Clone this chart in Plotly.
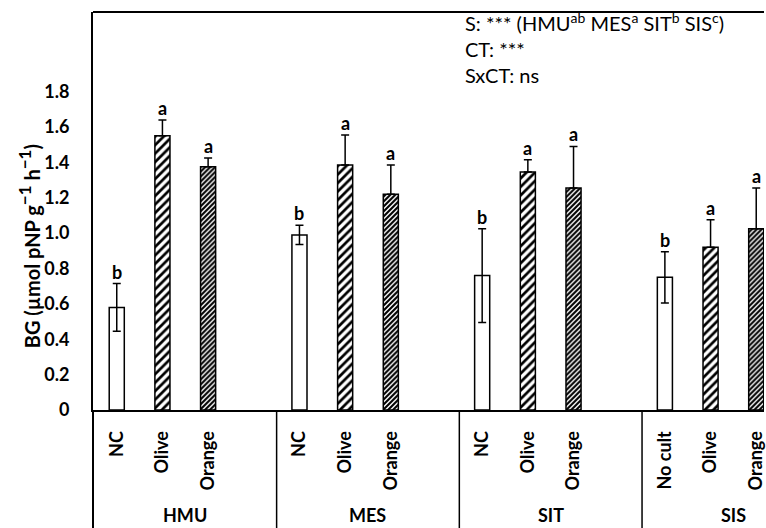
import plotly.graph_objects as go

sites = ["HMU", "MES", "SIT", "SIS"]
treatments = [["NC", "Olive", "Orange"], ["NC", "Olive", "Orange"],
              ["NC", "Olive", "Orange"], ["No cult", "Olive", "Orange"]]
ctrl_mean = [0.58, 0.99, 0.76, 0.75]
ctrl_sd = [0.135, 0.055, 0.265, 0.145]
olive_mean = [1.55, 1.385, 1.345, 0.92]
olive_sd = [0.09, 0.17, 0.07, 0.155]
orange_mean = [1.375, 1.22, 1.255, 1.025]
orange_sd = [0.05, 0.165, 0.235, 0.23]
ctrl_letters = ["b", "b", "b", "b"]
olive_letters = ["a", "a", "a", "a"]
orange_letters = ["a", "a", "a", "a"]
y_ticks = [0, 0.2, 0.4, 0.6, 0.8, 1.0, 1.2, 1.4, 1.6, 1.8]
y_ticktext = ["0", "0.2", "0.4", "0.6", "0.8", "1.0", "1.2", "1.4", "1.6", "1.8"]
SUP = "<sup><span style='font-size:14px'>{}</span></sup>"
stats_lines = ["S: *** (HMU" + SUP.format("ab") + " MES" + SUP.format("a") + " SIT"
               + SUP.format("b") + " SIS" + SUP.format("c") + ")",
               "CT: ***", "SxCT: ns"]
y_title = ("BG (µmol pNP g<sup><span style='font-size:17px'>−1</span></sup>"
           " h<sup><span style='font-size:17px'>−1</span></sup>)")

SLOT = 4
ctrl_x = [i * SLOT + 0 for i in range(4)]
olive_x = [i * SLOT + 1 for i in range(4)]
orange_x = [i * SLOT + 2 for i in range(4)]

FONT = "Lato"
fig = go.Figure()
BW = 0.33
line = dict(color="black", width=1.5)

fig.add_trace(go.Bar(x=ctrl_x, y=ctrl_mean, width=BW,
                     marker=dict(color="white", line=line),
                     error_y=dict(type="data", array=ctrl_sd, symmetric=True,
                                  color="black", thickness=1.5, width=4)))
fig.add_trace(go.Bar(x=olive_x, y=olive_mean, width=BW,
                     marker=dict(color="white", line=line,
                                 pattern=dict(shape="/", size=6, solidity=0.45,
                                              fgcolor="black", bgcolor="white",
                                              fillmode="replace")),
                     error_y=dict(type="data", array=olive_sd, arrayminus=[0] * 4,
                                  symmetric=False, color="black", thickness=1.5, width=4)))
fig.add_trace(go.Bar(x=orange_x, y=orange_mean, width=BW,
                     marker=dict(color="white", line=line,
                                 pattern=dict(shape="/", size=3.5, solidity=0.6,
                                              fgcolor="black", bgcolor="white",
                                              fillmode="replace")),
                     error_y=dict(type="data", array=orange_sd, arrayminus=[0] * 4,
                                  symmetric=False, color="black", thickness=1.5, width=4)))

ann = []
for xs, ms, ss, ls in [(ctrl_x, ctrl_mean, ctrl_sd, ctrl_letters),
                       (olive_x, olive_mean, olive_sd, olive_letters),
                       (orange_x, orange_mean, orange_sd, orange_letters)]:
    for x, m, s, l in zip(xs, ms, ss, ls):
        ann.append(dict(x=x, y=m + s, text=l, showarrow=False, yanchor="bottom",
                        yshift=-1, font=dict(family=FONT, size=18, color="black",
                                             weight="bold")))

# group labels
for i, s in enumerate(sites):
    ann.append(dict(x=i * SLOT + 1.5, y=-(515 - 410) / 398, xref="x", yref="paper",
                    text=s, showarrow=False, yanchor="middle",
                    font=dict(family=FONT, size=18, color="black", weight="bold")))

# stats text (one block)
ann.append(dict(x=0.551, y=1 + 5 / 398, xref="paper", yref="paper",
                text="<br>".join(stats_lines), align="left", showarrow=False,
                xanchor="left", yanchor="top",
                font=dict(family=FONT, size=20, color="black")))

# y title
ann.append(dict(x=(28 - 93) / 673, y=(410 - 246) / 398, xref="paper", yref="paper",
                text=y_title, textangle=-90, xanchor="center", yanchor="middle",
                showarrow=False, font=dict(family=FONT, size=20, color="black",
                                           weight="bold")))

shapes = [
    dict(type="line", xref="paper", yref="paper", x0=0, x1=1, y0=1, y1=1,
         line=dict(color="black", width=2)),
    dict(type="line", xref="paper", yref="paper", x0=0, x1=0, y0=0, y1=-0.3,
         line=dict(color="black", width=2)),
]
for i in range(1, 4):
    xs = i * SLOT - 0.5
    shapes.append(dict(type="line", xref="x", yref="paper", x0=xs, x1=xs, y0=0,
                       y1=-0.3, line=dict(color="black", width=1.5)))

tickvals = []
ticktext = []
for i, tr in enumerate(treatments):
    for j, t in enumerate(tr):
        tickvals.append(i * SLOT + j)
        ticktext.append(t)

fig.update_layout(
    width=766, height=528, margin=dict(l=93, r=0, t=12, b=118),
    paper_bgcolor="white", plot_bgcolor="white", showlegend=False,
    annotations=ann, shapes=shapes, barmode="overlay",
    xaxis=dict(range=[-0.52, 14.17], tickvals=tickvals, ticktext=ticktext,
               tickangle=-90, showgrid=False, zeroline=False, showline=True,
               linecolor="black", linewidth=2, ticks="outside", ticklen=12,
               tickcolor="rgba(0,0,0,0)", ticklabeloverflow="allow",
               tickfont=dict(family=FONT, size=18, color="black", weight="bold")),
    yaxis=dict(range=[0, 2.25], tickvals=y_ticks, ticktext=y_ticktext,
               showgrid=False, zeroline=False, showline=True, linecolor="black",
               linewidth=2, ticks="outside", ticklen=18, tickcolor="rgba(0,0,0,0)",
               tickfont=dict(family=FONT, size=18, color="black", weight="bold")),
)

fig.write_html("out.html")
